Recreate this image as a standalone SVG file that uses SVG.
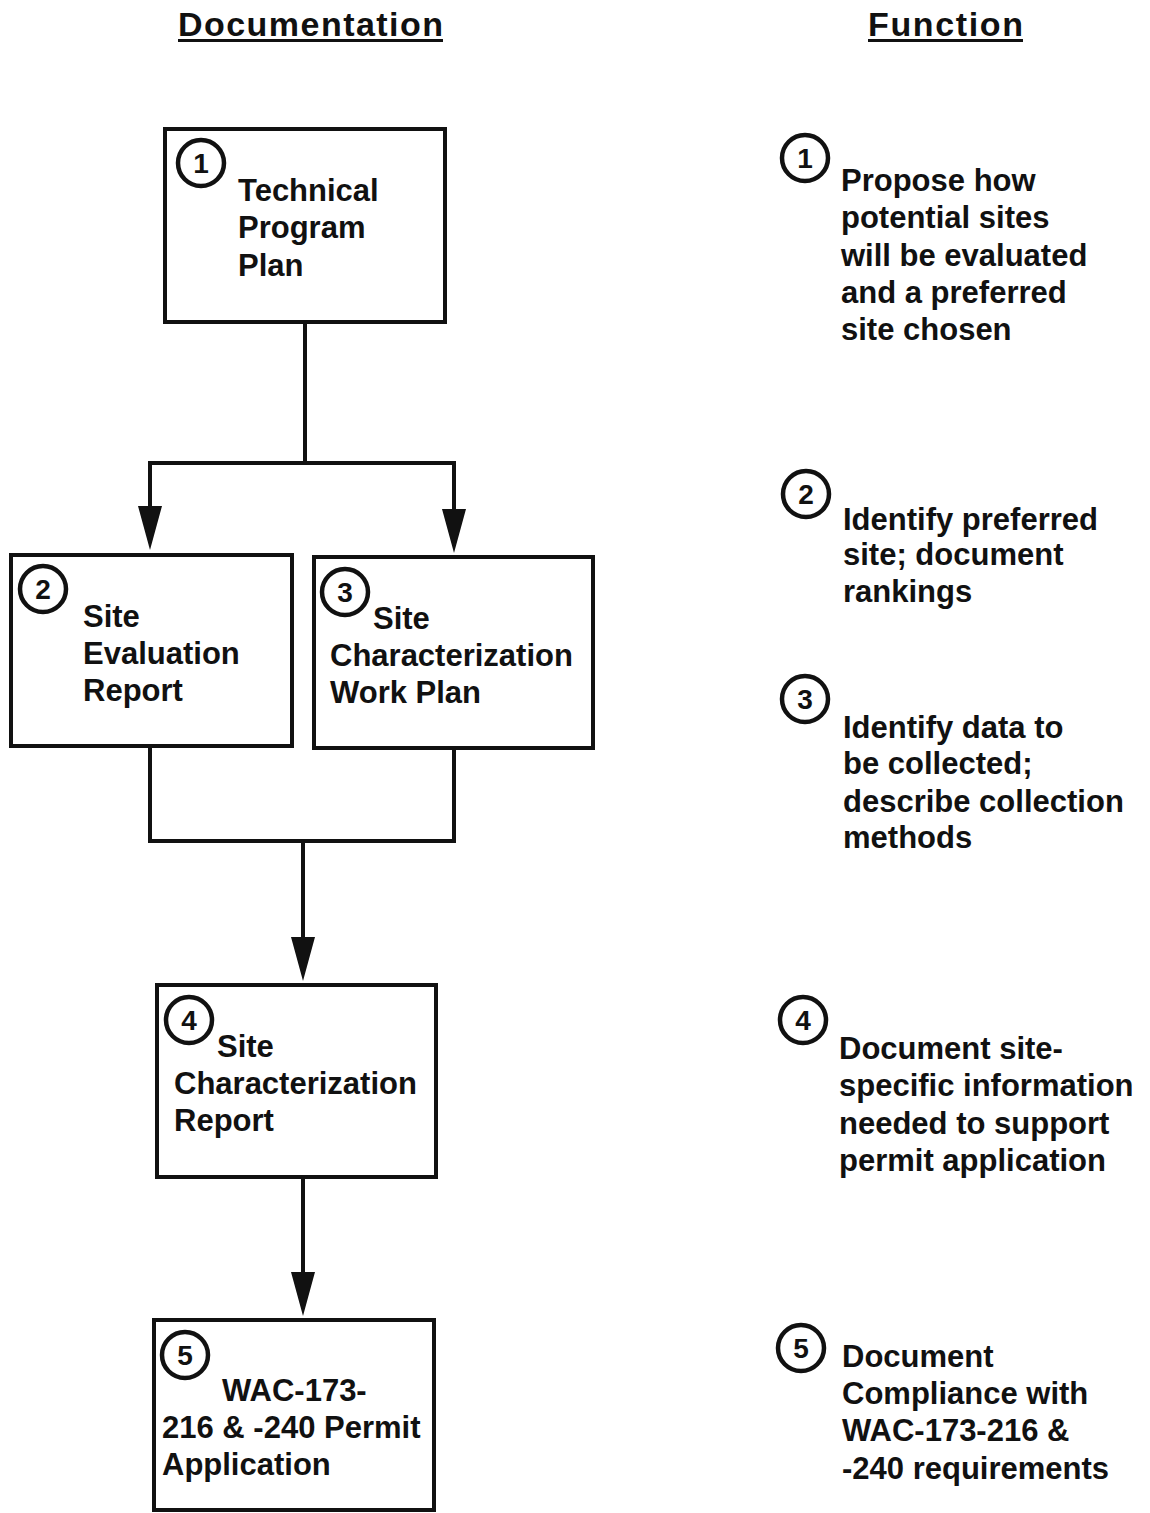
<svg xmlns="http://www.w3.org/2000/svg" width="1150" height="1513" viewBox="0 0 1150 1513">
<style>
text{font-family:"Liberation Sans",Arial,sans-serif;font-weight:bold;fill:#111}
.t{font-size:31px}
.h{font-size:34px}
.n{font-size:28px;text-anchor:middle}
.box{fill:#fff;stroke:#111;stroke-width:4}
.c{fill:none;stroke:#111;stroke-width:4.5}
.ln{fill:none;stroke:#111;stroke-width:4}
</style>
<defs>
<marker id="arr" markerUnits="userSpaceOnUse" markerWidth="46" markerHeight="26" viewBox="0 0 46 26" refX="4" refY="13" orient="auto">
<path d="M0,1 L44,13 L0,25 z" fill="#111"/>
</marker>
</defs>
<rect width="1150" height="1513" fill="#fff"/>
<g id="headers">
<text class="h" x="178" y="36" textLength="265" lengthAdjust="spacing">Documentation</text>
<rect x="178" y="39" width="265" height="3" fill="#111"/>
<text class="h" x="868" y="36" textLength="155" lengthAdjust="spacing">Function</text>
<rect x="868" y="39" width="155" height="3" fill="#111"/>
</g>
<g id="connectors">
<path class="ln" d="M305,323 V463 M150,463 H454"/>
<path class="ln" d="M150,461 V510" marker-end="url(#arr)"/>
<path class="ln" d="M454,461 V513" marker-end="url(#arr)"/>
<path class="ln" d="M150,747 V841 H454 V749"/>
<path class="ln" d="M303,841 V941" marker-end="url(#arr)"/>
<path class="ln" d="M303,1178 V1276" marker-end="url(#arr)"/>
</g>
<g id="node1">
<rect class="box" x="165" y="129" width="280" height="193"/>
<circle class="c" cx="201" cy="163" r="23"/><text class="n" x="201" y="173">1</text>
<text class="t" x="238" y="201">Technical</text>
<text class="t" x="238" y="238">Program</text>
<text class="t" x="238" y="276">Plan</text>
</g>
<g id="node2">
<rect class="box" x="11" y="555" width="281" height="191"/>
<circle class="c" cx="43" cy="589" r="23"/><text class="n" x="43" y="599">2</text>
<text class="t" x="83" y="627">Site</text>
<text class="t" x="83" y="664">Evaluation</text>
<text class="t" x="83" y="701">Report</text>
</g>
<g id="node3">
<rect class="box" x="314" y="557" width="279" height="191"/>
<circle class="c" cx="345" cy="592" r="23"/><text class="n" x="345" y="602">3</text>
<text class="t" x="373" y="629">Site</text>
<text class="t" x="330" y="666">Characterization</text>
<text class="t" x="330" y="703">Work Plan</text>
</g>
<g id="node4">
<rect class="box" x="157" y="985" width="279" height="192"/>
<circle class="c" cx="189" cy="1020" r="23"/><text class="n" x="189" y="1030">4</text>
<text class="t" x="217" y="1057">Site</text>
<text class="t" x="174" y="1094">Characterization</text>
<text class="t" x="174" y="1131">Report</text>
</g>
<g id="node5">
<rect class="box" x="154" y="1320" width="280" height="190"/>
<circle class="c" cx="185" cy="1355" r="23"/><text class="n" x="185" y="1365">5</text>
<text class="t" x="222" y="1401">WAC-173-</text>
<text class="t" x="162" y="1438">216 &amp; -240 Permit</text>
<text class="t" x="162" y="1475">Application</text>
</g>
<g id="func1">
<circle class="c" cx="805" cy="158" r="23"/><text class="n" x="805" y="168">1</text>
<text class="t" x="841" y="191">Propose how</text>
<text class="t" x="841" y="228">potential sites</text>
<text class="t" x="841" y="266">will be evaluated</text>
<text class="t" x="841" y="303">and a preferred</text>
<text class="t" x="841" y="340">site chosen</text>
</g>
<g id="func2">
<circle class="c" cx="806" cy="494" r="23"/><text class="n" x="806" y="504">2</text>
<text class="t" x="843" y="530">Identify preferred</text>
<text class="t" x="843" y="565">site; document</text>
<text class="t" x="843" y="602">rankings</text>
</g>
<g id="func3">
<circle class="c" cx="805" cy="699" r="23"/><text class="n" x="805" y="709">3</text>
<text class="t" x="843" y="738">Identify data to</text>
<text class="t" x="843" y="774">be collected;</text>
<text class="t" x="843" y="812">describe collection</text>
<text class="t" x="843" y="848">methods</text>
</g>
<g id="func4">
<circle class="c" cx="803" cy="1020" r="23"/><text class="n" x="803" y="1030">4</text>
<text class="t" x="839" y="1059">Document site-</text>
<text class="t" x="839" y="1096">specific information</text>
<text class="t" x="839" y="1134">needed to support</text>
<text class="t" x="839" y="1171">permit application</text>
</g>
<g id="func5">
<circle class="c" cx="801" cy="1348" r="23"/><text class="n" x="801" y="1358">5</text>
<text class="t" x="842" y="1367">Document</text>
<text class="t" x="842" y="1404">Compliance with</text>
<text class="t" x="842" y="1441">WAC-173-216 &amp;</text>
<text class="t" x="842" y="1479">-240 requirements</text>
</g>
</svg>
